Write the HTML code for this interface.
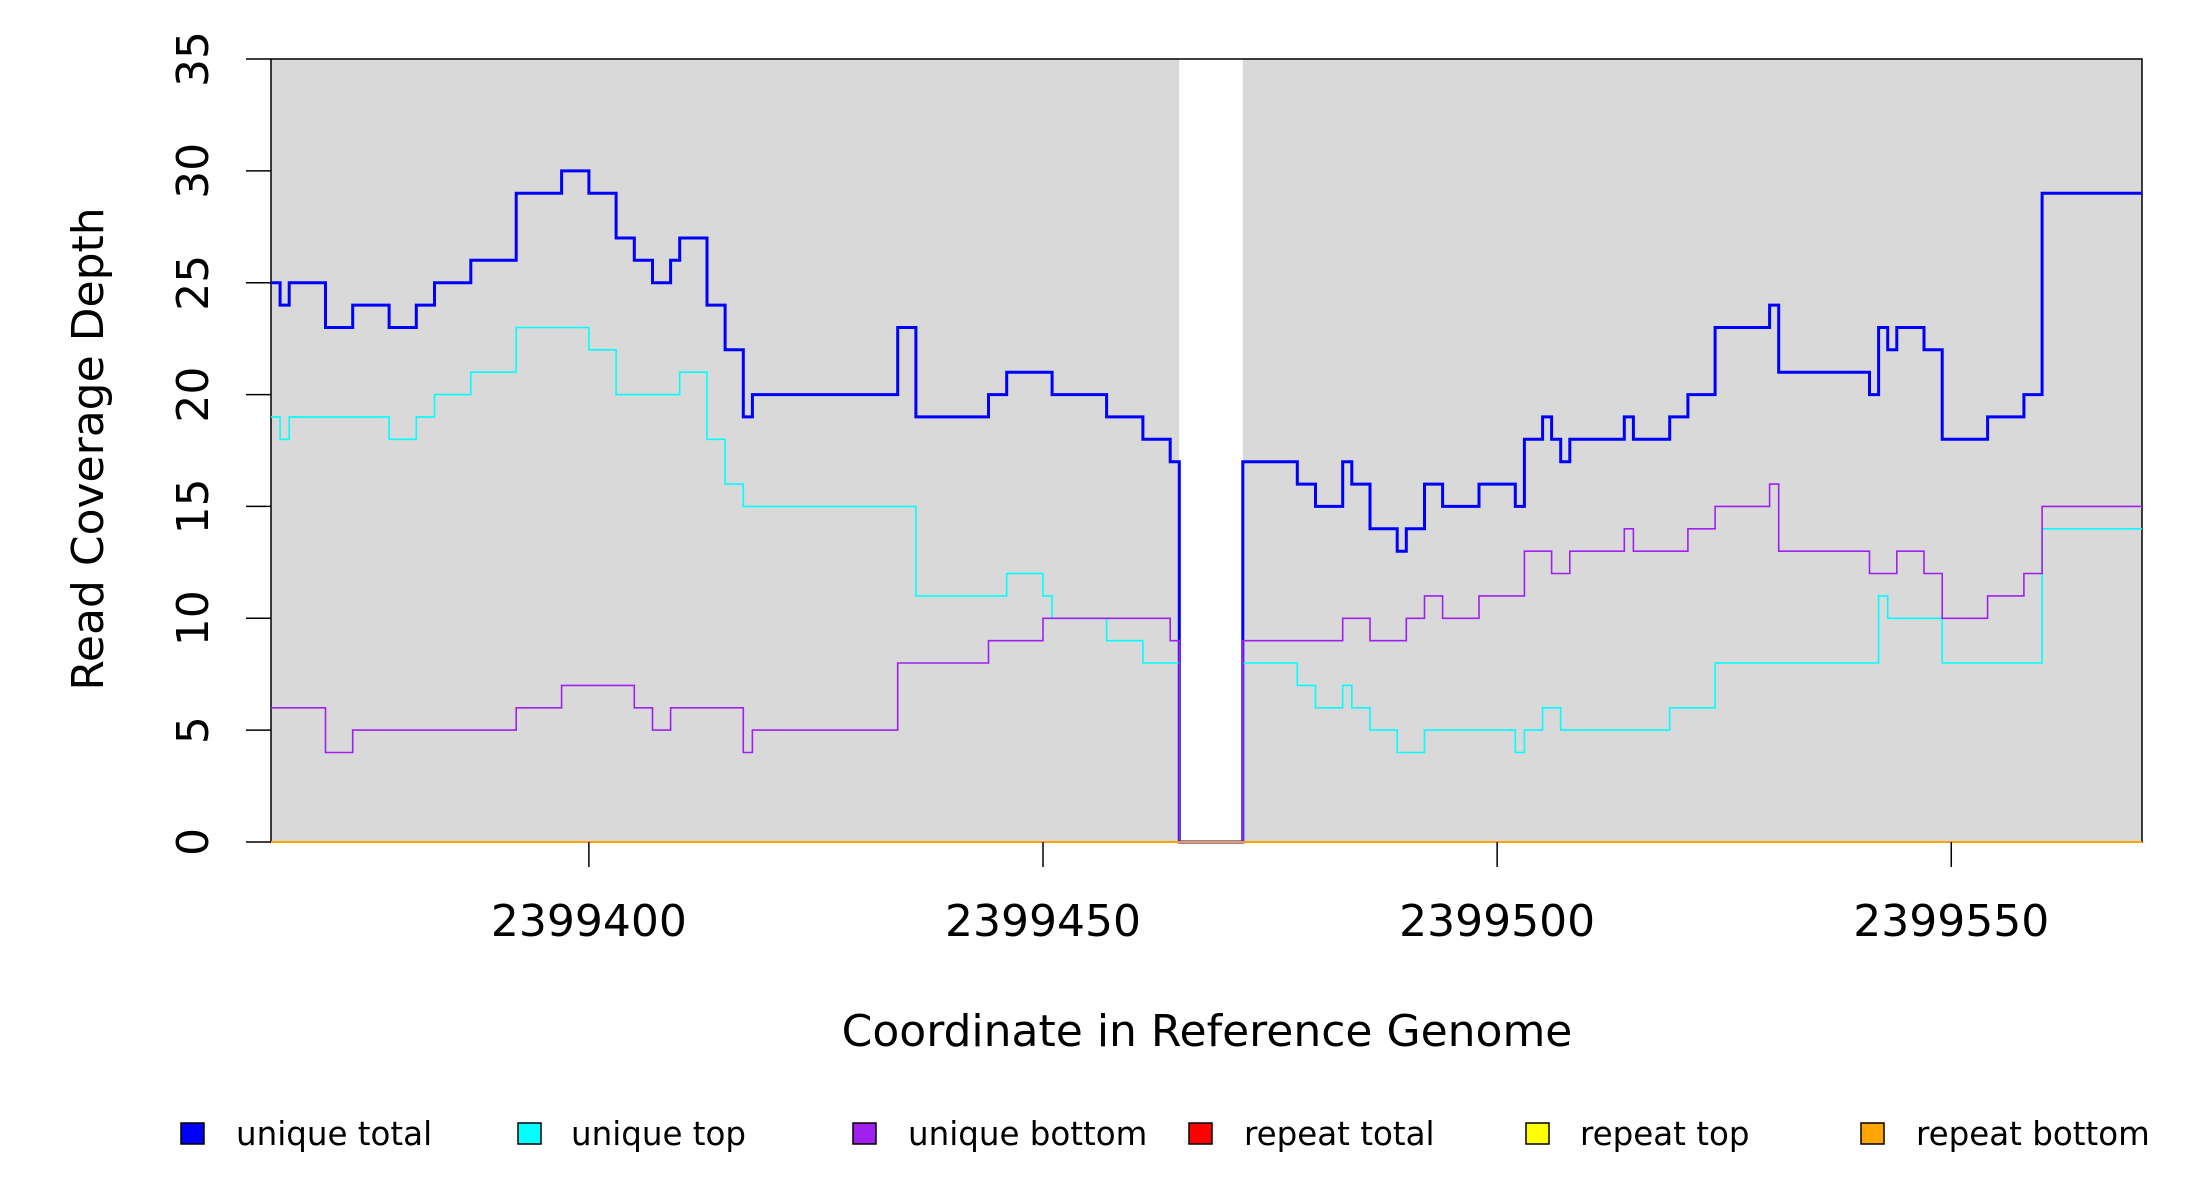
<!DOCTYPE html>
<html><head><meta charset="utf-8"><style>
html,body{margin:0;padding:0;background:#fff;width:2200px;height:1200px;overflow:hidden}
text{font-family:"DejaVu Sans","Liberation Sans",sans-serif;fill:#000}
</style></head><body>
<svg id="chart" width="2200" height="1200" xmlns="http://www.w3.org/2000/svg">
<g id="plot"></g>
<g id="axes"></g>
<g id="legend"></g>
</svg>
<script>
const xMin = 2399365, xMax = 2399571;
const yMin = 0, yMax = 35;
const gapStart = 2399465, gapEnd = 2399472;
const xTicks = [2399400, 2399450, 2399500, 2399550];
const yTicks = [0, 5, 10, 15, 20, 25, 30, 35];
const totalPos = [365,366,367,371,374,378,381,383,387,392,397,400,403,405,407,409,410,413,415,417,418,434,436,444,446,451,457,461,464,465,472,478,480,483,484,486,489,490,492,494,498,502,503,505,506,507,508,514,515,519,521,524,530,531,541,542,543,544,547,549,554,558,560];
const totalVal = [25,24,25,23,24,23,24,25,26,29,30,29,27,26,25,26,27,24,22,19,20,23,19,20,21,20,19,18,17,0,17,16,15,17,16,14,13,14,16,15,16,15,18,19,18,17,18,19,18,19,20,23,24,21,20,23,22,23,22,18,19,20,29];
const topPos = [365,366,367,378,381,383,387,392,400,403,410,413,415,417,436,446,450,451,457,461,465,472,478,480,483,484,486,489,492,502,503,505,507,519,524,542,543,549,560];
const topVal = [19,18,19,18,19,20,21,23,22,20,21,18,16,15,11,12,11,10,9,8,0,8,7,6,7,6,5,4,5,4,5,6,5,6,8,11,10,8,14];
const botPos = [365,371,374,392,397,405,407,409,417,418,434,444,450,464,465,472,483,486,490,492,494,498,503,506,508,514,515,521,524,530,531,541,544,547,549,554,558,560];
const botVal = [6,4,5,6,7,6,5,6,4,5,8,9,10,9,0,9,10,9,10,11,10,11,13,12,13,14,13,14,15,16,13,12,13,12,10,11,12,15];
const repPos = [365];
const repVal = [0];
const legendLabels = ["unique total","unique top","unique bottom","repeat total","repeat top","repeat bottom"];
const legendColors = ["#0000ff","#00ffff","#a020f0","#ff0000","#ffff00","#ffa500"];

const L=271,R=2142,T=59,B=842;
const NS="http://www.w3.org/2000/svg";
const sx=c=>L+(c-xMin)*(R-L)/(xMax-xMin);
const sy=v=>B-(v-yMin)*(B-T)/(yMax-yMin);
function mk(tag,attrs,parent){const e=document.createElementNS(NS,tag);for(const k in attrs)e.setAttribute(k,attrs[k]);parent.appendChild(e);return e;}
const plot=document.getElementById('plot'),axes=document.getElementById('axes'),legend=document.getElementById('legend');

let bg=mk('rect',{x:L,y:T,width:R-L,height:B-T,fill:'#d9d9d9'},plot);


let gap=mk('rect',{x:sx(gapStart),y:T,width:sx(gapEnd)-sx(gapStart),height:B-T,fill:'#ffffff'},plot);


let frame=mk('rect',{x:L,y:T,width:R-L,height:B-T,fill:'none',stroke:'#000','stroke-width':1.5},plot);



function stepPath(pos,val){
  let d='';
  for(let i=0;i<pos.length;i++){
    const x0=sx(2399000+pos[i]);
    const x1=i+1<pos.length?sx(2399000+pos[i+1]):sx(xMax);
    const y=sy(val[i]);
    d+=(i===0?'M':'L')+x0.toFixed(1)+','+y.toFixed(1)+'L'+x1.toFixed(1)+','+y.toFixed(1);
  }
  return d;
}
const series=[
 [totalPos,totalVal,'#0000ff',3,'unique-total-line'],
 [topPos,topVal,'#00ffff',1.6,'unique-top-line'],
 [botPos,botVal,'#a020f0',1.6,'unique-bottom-line'],
 [repPos,repVal,'#ff0000',1.6,'repeat-total-line'],
 [repPos,repVal,'#ffff00',1.6,'repeat-top-line'],
 [repPos,repVal,'#ffa500',2,'repeat-bottom-line']
];
series.forEach(s=>{
  const p=mk('path',{d:stepPath(s[0],s[1]),fill:'none',stroke:s[2],'stroke-width':s[3]},plot);
  
  
});

yTicks.forEach(v=>{
  const y=sy(v);
  const t=mk('line',{x1:246,x2:L,y1:y,y2:y,stroke:'#000','stroke-width':1.5},axes);
  
  
  const lb=mk('text',{x:0,y:0,'font-size':44,'text-anchor':'middle',transform:`translate(208,${y}) rotate(-90)`},axes);
  lb.textContent=v;
  
  
});
xTicks.forEach(c=>{
  const x=sx(c);
  const t=mk('line',{x1:x,x2:x,y1:B,y2:867,stroke:'#000','stroke-width':1.5},axes);
  
  
  const lb=mk('text',{x:x,y:936,'font-size':44,'text-anchor':'middle'},axes);
  lb.textContent=c;
  
  
});
let xt=mk('text',{x:1207,y:1046,'font-size':44,'text-anchor':'middle'},axes);
xt.textContent='Coordinate in Reference Genome';


let yt=mk('text',{x:0,y:0,'font-size':44,'text-anchor':'middle',transform:'translate(103,449) rotate(-90)'},axes);
yt.textContent='Read Coverage Depth';



const sqX=[181,518,853,1189,1526,1861], txX=[236,571,908,1244,1580,1916];
legendLabels.forEach((lab,i)=>{
  const g=mk('g',{},legend);
  
  
  mk('rect',{x:sqX[i],y:1123,width:23,height:21,fill:legendColors[i],stroke:'#000','stroke-width':1.5},g);
  const t=mk('text',{x:txX[i],y:1145,'font-size':32.5},g);
  t.textContent=lab;
});
</script>
</body></html>
